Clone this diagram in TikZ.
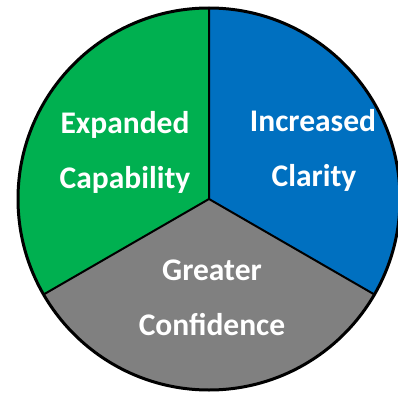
\documentclass[tikz,border=0pt]{standalone}
\usepackage{fontspec}
\setmainfont{Carlito}
\definecolor{pgreen}{HTML}{00B050}
\definecolor{pblue}{HTML}{0070C0}
\definecolor{pgray}{HTML}{808080}
\begin{document}
\begin{tikzpicture}[x=1pt,y=-1pt,
  lbl/.style={text=white,font=\fontsize{31.5}{38}\selectfont\bfseries,anchor=base,inner sep=0pt},
  sector/.style={draw=black,line width=2pt,line join=round}]
\useasboundingbox (0,0) rectangle (398,393);
\coordinate (c) at (209,199);
\def\R{191}
\path (c) ++(-90:\R) coordinate (top);
\path (c) ++(30:\R) coordinate (rr);
\path (c) ++(150:\R) coordinate (ll);
\fill[pblue] (c) -- (top) arc[start angle=-90,end angle=30,radius=\R] -- cycle;
\fill[pgray] (c) -- (rr) arc[start angle=30,end angle=150,radius=\R] -- cycle;
\fill[pgreen] (c) -- (ll) arc[start angle=150,end angle=270,radius=\R] -- cycle;
\draw[sector] (top) -- (c) -- (rr) (c) -- (ll);
\draw[black,line width=3pt] (c) circle[radius=\R];
\node[lbl] (e1) at (125,133) {Expanded};
\node[lbl] (e2) at (125,188) {Capability};
\node[lbl] (i1) at (313,131) {Increased};
\node[lbl] (i2) at (314,186) {Clarity};
\node[lbl] (g1) at (212,280) {Greater};
\node[lbl] (g2) at (212,335) {Confidence};
\end{tikzpicture}
\end{document}
